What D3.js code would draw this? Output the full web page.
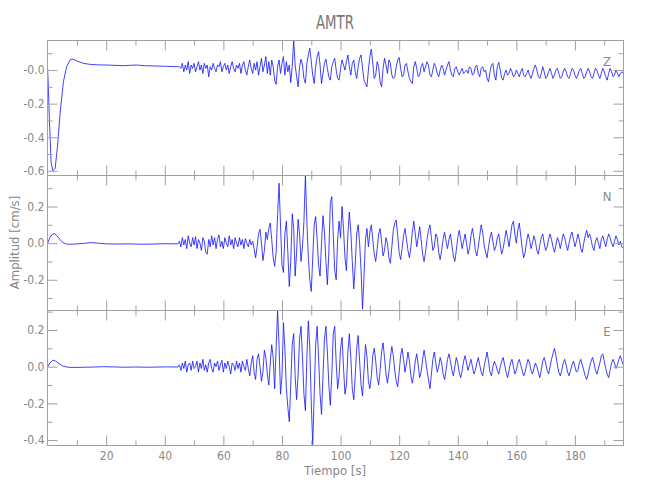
<!DOCTYPE html>
<html><head><meta charset="utf-8">
<script src="https://cdn.jsdelivr.net/npm/d3@7/dist/d3.min.js"></script>
<style>body{margin:0;background:#fff}</style>
</head><body><svg id="c" width="650" height="500"></svg>
<script>
const title = "AMTR";
const xLabel = "Tiempo [s]";
const yLabel = "Amplitud [cm/s]";
const components = ["Z", "N", "E"];
const xMajorTicks = [20, 40, 60, 80, 100, 120, 140, 160, 180];
const xMinorTicks = [10, 30, 50, 70, 90, 110, 130, 150, 170, 190];
const xDomain = [-0.2, 196.4];
const sampleStart = 45, sampleStep = 0.5;

// Z component
const zDomain = [-0.625, 0.179];
const zTicks = [-0.6, -0.4, -0.2, 0.0];
const zTickLabels = ["-0.6", "-0.4", "-0.2", "-0.0"];
const zMinor = [-0.5, -0.3, -0.1, 0.1];
const zEarlyT = [0, 0.3, 0.6, 1.2, 1.8, 2.6, 3.4, 4.3, 5.4, 6.5, 7.7, 8.6, 10, 12.2, 14.5, 17, 20.2, 23, 25.9, 28, 30.4, 33, 37.3, 41, 44.5];
const zEarlyV = [0.01, -0.12, -0.29, -0.55, -0.60, -0.585, -0.45, -0.25, -0.07, 0.02, 0.06, 0.065, 0.054, 0.04, 0.034, 0.031, 0.03, 0.028, 0.026, 0.028, 0.03, 0.026, 0.024, 0.022, 0.02];
const zWave = [
 0.02, 0.01, 0.04, -0.01, 0.03, 0.00, 0.05, -0.02, 0.03, 0.01, 0.04, -0.01, 0.02, 0.05, 0.00, 0.03, -0.02, 0.04, 0.01, 0.03,
 -0.04, 0.02, 0.00, 0.04, 0.01, -0.01, 0.03, 0.02, 0.05, -0.01, 0.02, 0.04, 0.00, 0.03, -0.02, 0.02, 0.05, 0.01, -0.01, 0.03,
 0.01, 0.04, -0.02, 0.03, 0.05, 0.00, -0.03, 0.02, 0.06, 0.01, -0.02, 0.04, 0.00, 0.05, -0.03, 0.02, 0.07, -0.01, 0.03, 0.08,
 -0.02, 0.05, -0.03, 0.06, 0.02, -0.06, -0.085, 0.02, 0.06, -0.02, 0.04, 0.08, -0.03, 0.05, -0.01, 0.03, -0.075, 0.02, 0.175, 0.03,
 -0.04, -0.10, 0.02, 0.065, 0.03, -0.05, -0.078, 0.04, 0.09, 0.13, 0.05, -0.03, -0.08, 0.02, 0.08, 0.11, 0.03, -0.08, -0.02, 0.04,
 0.065, 0.01, -0.04, -0.06, 0.02, 0.05, 0.07, 0.00, -0.05, -0.06, 0.01, 0.06, 0.03, 0.00, 0.05, 0.09, 0.02, -0.03, 0.04, 0.06,
 -0.01, -0.05, 0.02, 0.07, 0.09, 0.01, -0.06, -0.08, -0.10, 0.00, 0.08, 0.125, 0.04, -0.05, -0.03, 0.05, 0.02, -0.07, -0.10, 0.01,
 0.07, 0.03, -0.02, 0.06, 0.04, -0.03, -0.05, -0.04, 0.02, 0.06, 0.075, 0.01, -0.04, -0.03, 0.03, 0.04, -0.01, -0.05, -0.07, -0.08,
 0.02, 0.05, 0.01, -0.04, -0.03, 0.02, 0.04, -0.01, 0.02, 0.05, 0.03, -0.03, -0.04, 0.00, 0.04, 0.02, -0.02, -0.04, 0.00, 0.03,
 0.01, -0.03, 0.00, 0.03, 0.05, 0.00, -0.03, -0.04, 0.01, 0.02, -0.01, -0.03, -0.01, 0.01, -0.02, -0.01, 0.00, -0.02, 0.02, 0.01,
 -0.03, -0.02, 0.02, 0.03, -0.02, -0.04, 0.01, 0.02, -0.01, 0.00, -0.05, -0.07, -0.01, 0.03, 0.04, -0.03, -0.06, 0.02, 0.045, 0.00,
 -0.05, -0.06, -0.02, 0.00, -0.03, -0.02, 0.01, -0.01, -0.04, -0.03, 0.00, -0.02, -0.04, -0.01, 0.01, -0.03, -0.04, -0.02, 0.00, -0.03,
 -0.05, -0.02, 0.01, 0.03, 0.00, -0.04, -0.05, -0.02, 0.02, -0.01, -0.05, -0.04, -0.01, 0.01, -0.02, -0.05, -0.03, 0.00, 0.01, -0.02,
 -0.05, -0.04, -0.01, 0.01, -0.01, -0.04, -0.05, -0.02, 0.01, 0.00, -0.03, -0.05, -0.03, 0.00, 0.01, -0.02, -0.05, -0.04, -0.01, 0.01,
 -0.01, -0.04, -0.05, -0.02, 0.01, 0.00, -0.03, -0.05, -0.02, 0.01, -0.01, -0.04, -0.06, -0.02, 0.01, -0.01, -0.04, -0.03, 0.00, -0.02,
 -0.04, -0.02, -0.01, -0.02
];

// N component
const nDomain = [-0.365, 0.372];
const nTicks = [-0.2, 0.0, 0.2];
const nTickLabels = ["-0.2", "0.0", "0.2"];
const nMinor = [-0.3, -0.1, 0.1, 0.3];
const nEarlyT = [0, 0.8, 1.6, 2.4, 3.2, 4.2, 5.2, 6.5, 8, 10, 12, 14.6, 17, 20, 24, 28, 32, 36, 40, 44.5];
const nEarlyV = [0.0, 0.03, 0.048, 0.052, 0.04, 0.02, 0.003, -0.005, -0.006, -0.004, -0.002, 0.003, 0.0, -0.004, -0.005, -0.004, -0.006, -0.005, -0.003, -0.004];
const nWave = [
 0.01, -0.02, 0.03, -0.01, 0.02, -0.03, 0.04, 0.00, -0.02, 0.03, -0.01, 0.035, -0.03, 0.02, 0.00, -0.04, 0.03, 0.01, -0.05, -0.06,
 0.02, -0.02, 0.04, -0.01, 0.03, -0.03, 0.02, 0.045, -0.02, 0.01, -0.03, 0.03, 0.00, -0.02, 0.04, -0.01, 0.02, -0.03, 0.03, 0.00,
 -0.02, 0.03, -0.01, 0.02, -0.03, 0.025, 0.00, -0.02, 0.02, -0.01, 0.01, -0.03, -0.08, -0.02, 0.05, 0.076, 0.00, -0.095, -0.04, 0.06,
 0.02, 0.08, 0.11, 0.02, -0.08, -0.127, -0.05, 0.15, 0.327, 0.10, -0.12, -0.16, 0.05, 0.12, -0.05, -0.237, -0.10, 0.16, 0.08, -0.18,
 -0.05, 0.13, 0.05, -0.10, -0.02, 0.12, 0.37, 0.12, -0.08, -0.20, -0.264, -0.08, 0.10, 0.145, 0.02, -0.12, -0.18, 0.00, 0.15, 0.06,
 -0.10, -0.227, -0.05, 0.218, 0.254, 0.05, -0.15, -0.20, 0.02, 0.12, 0.03, 0.20, 0.08, -0.08, -0.15, 0.05, 0.17, 0.06, -0.10, -0.25,
 -0.12, 0.05, 0.10, 0.00, -0.15, -0.36, -0.18, 0.02, 0.08, -0.02, 0.06, 0.10, 0.02, -0.06, -0.10, -0.03, 0.05, 0.08, 0.01, -0.07,
 -0.04, 0.03, 0.00, -0.08, -0.11, -0.02, 0.07, 0.11, 0.126, 0.04, -0.05, -0.09, -0.03, 0.04, 0.08, 0.02, -0.04, -0.08, -0.02, 0.06,
 0.12, 0.05, -0.02, 0.03, 0.09, 0.02, -0.06, -0.10, -0.05, 0.02, 0.07, 0.10, 0.03, -0.04, -0.02, 0.05, 0.03, -0.05, -0.09, -0.04,
 0.02, 0.06, 0.01, -0.03, 0.02, 0.05, -0.01, -0.07, -0.10, -0.04, 0.03, 0.07, 0.02, -0.03, 0.01, 0.05, 0.00, -0.06, -0.03, 0.04,
 0.08, 0.03, -0.04, -0.07, -0.02, 0.04, 0.10, 0.06, -0.01, -0.05, -0.08, -0.02, 0.03, 0.06, 0.01, -0.04, -0.02, 0.03, 0.05, -0.01,
 -0.06, -0.03, 0.02, 0.07, 0.03, -0.02, 0.04, 0.10, 0.12, 0.05, 0.00, 0.07, 0.11, 0.04, -0.03, -0.08, -0.05, 0.01, 0.05, 0.02,
 -0.03, 0.00, 0.04, 0.01, -0.04, -0.06, -0.01, 0.03, 0.05, 0.00, -0.04, -0.02, 0.02, 0.05, 0.02, -0.02, -0.05, -0.01, 0.03, 0.01,
 -0.03, 0.01, 0.05, 0.03, -0.01, -0.04, 0.00, 0.04, 0.06, 0.02, -0.02, 0.01, 0.05, 0.02, -0.03, -0.05, 0.00, 0.04, 0.07, 0.03,
 0.05, 0.02, -0.02, -0.04, 0.01, 0.03, 0.00, -0.03, 0.02, 0.04, 0.01, -0.02, 0.02, 0.05, 0.03, 0.00, -0.02, 0.01, 0.04, 0.02,
 -0.01, 0.01, -0.02, -0.03
];

// E component
const eDomain = [-0.427, 0.309];
const eTicks = [-0.4, -0.2, 0.0, 0.2];
const eTickLabels = ["-0.4", "-0.2", "0.0", "0.2"];
const eMinor = [-0.3, -0.1, 0.1, 0.3];
const eEarlyT = [0, 0.8, 1.8, 2.8, 3.8, 5, 6.5, 8, 10, 13, 16, 19, 22, 26, 30, 34, 38, 41, 44.5];
const eEarlyV = [0.0, 0.02, 0.036, 0.03, 0.018, 0.005, -0.002, -0.004, -0.004, -0.003, -0.002, 0.0, -0.001, -0.003, -0.002, -0.003, -0.002, -0.001, -0.002];
const eWave = [
 0.01, -0.02, 0.02, -0.01, 0.03, -0.03, 0.01, 0.02, -0.02, 0.03, -0.01, 0.00, 0.03, -0.03, 0.02, -0.01, 0.04, -0.02, 0.01, -0.03,
 0.02, 0.04, -0.01, -0.03, 0.02, 0.00, 0.03, -0.02, 0.01, 0.035, -0.03, 0.02, -0.01, 0.03, 0.00, -0.04, 0.02, 0.01, -0.02, 0.03,
 -0.01, 0.02, -0.03, 0.03, 0.00, -0.02, 0.04, -0.01, -0.05, 0.02, 0.06, -0.03, -0.07, 0.04, 0.07, 0.00, -0.08, -0.03, 0.09, 0.05,
 -0.04, -0.10, 0.02, 0.12, 0.05, -0.12, 0.10, 0.305, 0.12, -0.15, -0.05, 0.24, 0.10, -0.12, -0.22, -0.30, -0.10, 0.12, 0.18, -0.05,
 -0.18, -0.05, 0.15, 0.22, 0.05, -0.15, -0.24, 0.05, 0.25, 0.10, -0.20, -0.425, -0.15, 0.12, 0.22, 0.05, -0.15, -0.26, -0.05, 0.15,
 0.22, 0.08, -0.10, -0.21, -0.05, 0.18, 0.22, 0.02, -0.12, -0.05, 0.10, 0.16, 0.00, -0.15, -0.10, 0.08, 0.18, 0.05, -0.12, -0.18,
 -0.05, 0.10, 0.17, 0.03, -0.10, -0.16, -0.02, 0.12, 0.06, -0.08,
 -0.12, -0.05, 0.06, 0.10, 0.03, -0.06, -0.10, -0.02, 0.08, 0.13, 0.05, -0.04, -0.09, -0.03, 0.05, 0.11, 0.06, -0.02, -0.08, -0.11,
 -0.03, 0.06, 0.10, 0.04, -0.03, 0.02, 0.08, 0.03, -0.05, -0.09, -0.04, 0.03, 0.07, 0.01, -0.06, -0.03, 0.04, 0.09, 0.04, -0.02,
 -0.07, -0.12, -0.04, 0.04, 0.08, 0.02, -0.03, 0.00, 0.05, 0.02, -0.04, -0.07, -0.02, 0.04, 0.07, 0.03, -0.02, -0.05, 0.00, 0.05,
 0.02, -0.03, -0.06, -0.02, 0.03, 0.06, 0.02, -0.02, 0.01, 0.04, 0.00, -0.04, -0.02, 0.02, 0.05, 0.01, -0.03, -0.05, 0.00, 0.04,
 0.08, 0.03, -0.03, -0.05, 0.00, 0.03, 0.01, -0.02, -0.04, 0.00, 0.03, 0.05, 0.01, -0.03, -0.06, -0.02, 0.02, 0.04, 0.00, -0.04,
 -0.02, 0.02, 0.04, 0.01, -0.02, -0.05, -0.03, 0.01, 0.04, 0.02, -0.02, -0.04, -0.01, 0.02, 0.00, -0.03, -0.06, -0.02, 0.03, 0.05,
 0.02, -0.02, -0.04, 0.00, 0.04, 0.07, 0.10, 0.06, 0.01, -0.03, -0.05, -0.02, 0.02, 0.04, 0.01, -0.03, -0.05, -0.02, 0.01, 0.03,
 0.00, -0.03, -0.02, 0.02, 0.04, 0.01, -0.02, -0.05, -0.07, -0.04, 0.00, 0.03, 0.05, 0.02, -0.02, -0.04, -0.01, 0.02, 0.06, 0.07,
 0.03, -0.01, -0.04, -0.06, -0.02, 0.02, 0.04, 0.02, -0.01, 0.01, 0.04, 0.06, 0.03, 0.01
];

// ---------- drawing ----------
const FONT = "'Liberation Sans Narrow','DejaVu Sans Condensed','Liberation Sans',sans-serif";
const left = 47, right = 623, panelH = 135;
const panelTops = [40, 175, 310];
const axisColor = "#a0a0a0", textColor = "#888888";

const panels = [
  {name: components[0], domain: zDomain, ticks: zTicks, labels: zTickLabels, minor: zMinor, earlyT: zEarlyT, earlyV: zEarlyV, wave: zWave},
  {name: components[1], domain: nDomain, ticks: nTicks, labels: nTickLabels, minor: nMinor, earlyT: nEarlyT, earlyV: nEarlyV, wave: nWave},
  {name: components[2], domain: eDomain, ticks: eTicks, labels: eTickLabels, minor: eMinor, earlyT: eEarlyT, earlyV: eEarlyV, wave: eWave}
];

const svg = d3.select("#c");
const x = d3.scaleLinear().domain(xDomain).range([left, right]);

function styleAxis(g) {
  g.select(".domain").remove();
  g.selectAll(".tick line").attr("stroke", axisColor).attr("stroke-width", 1);
  g.selectAll(".tick text").attr("fill", textColor).style("font-family", FONT)
    .style("font-size", "12px").style("font-weight", "200");
}

const defs = svg.append("defs");

panels.forEach((p, i) => {
  const top = panelTops[i];
  const y = d3.scaleLinear().domain(p.domain).range([top + panelH, top]);
  const pts = p.earlyT.map((t, k) => [t, p.earlyV[k]])
    .concat(p.wave.map((v, k) => [sampleStart + k * sampleStep, v]));

  defs.append("clipPath").attr("id", "clip" + i)
    .append("rect").attr("x", left).attr("y", top).attr("width", right - left).attr("height", panelH);

  svg.append("path")
    .datum(pts)
    .attr("clip-path", `url(#clip${i})`)
    .attr("fill", "none")
    .attr("stroke", "#1010ff")
    .attr("stroke-width", 0.8)
    .attr("stroke-linejoin", "round")
    .attr("d", d3.line().x(d => x(d[0])).y(d => y(d[1])));

  // frame
  svg.append("rect").attr("x", left + 0.5).attr("y", top + 0.5)
    .attr("width", right - left).attr("height", panelH)
    .attr("fill", "none").attr("stroke", axisColor);

  // y axes
  svg.append("g").attr("transform", `translate(${left + 0.5},0)`)
    .call(d3.axisLeft(y).tickValues(p.ticks).tickFormat((d, k) => p.labels[k]).tickSize(-10).tickPadding(3))
    .call(styleAxis);
  svg.append("g").attr("transform", `translate(${left + 0.5},0)`)
    .call(d3.axisLeft(y).tickValues(p.minor).tickFormat("").tickSize(-5))
    .call(styleAxis);
  svg.append("g").attr("transform", `translate(${right + 0.5},0)`)
    .call(d3.axisRight(y).tickValues(p.ticks).tickFormat("").tickSize(-10))
    .call(styleAxis);
  svg.append("g").attr("transform", `translate(${right + 0.5},0)`)
    .call(d3.axisRight(y).tickValues(p.minor).tickFormat("").tickSize(-5))
    .call(styleAxis);

  // x axes (top & bottom of each panel)
  svg.append("g").attr("transform", `translate(0,${top + 0.5})`)
    .call(d3.axisTop(x).tickValues(xMajorTicks).tickFormat("").tickSize(-10))
    .call(styleAxis);
  svg.append("g").attr("transform", `translate(0,${top + 0.5})`)
    .call(d3.axisTop(x).tickValues(xMinorTicks).tickFormat("").tickSize(-5))
    .call(styleAxis);
  const isLast = i === panels.length - 1;
  svg.append("g").attr("transform", `translate(0,${top + panelH + 0.5})`)
    .call(d3.axisBottom(x).tickValues(xMajorTicks).tickFormat(isLast ? d3.format("d") : "").tickSize(-10).tickPadding(6))
    .call(styleAxis);
  svg.append("g").attr("transform", `translate(0,${top + panelH + 0.5})`)
    .call(d3.axisBottom(x).tickValues(xMinorTicks).tickFormat("").tickSize(-5))
    .call(styleAxis);

  // component label
  svg.append("text").attr("x", 607).attr("y", top + 26)
    .attr("text-anchor", "middle").attr("fill", textColor)
    .style("font-family", FONT).style("font-size", "13px").style("font-weight", "200")
    .text(p.name);
});

svg.append("text").attr("x", (left + right) / 2).attr("y", 29)
  .attr("text-anchor", "middle").attr("fill", "#777")
  .attr("textLength", 38).attr("lengthAdjust", "spacingAndGlyphs")
  .style("font-family", FONT).style("font-size", "19px").style("font-weight", "200")
  .text(title);

svg.append("text").attr("x", (left + right) / 2).attr("y", 475)
  .attr("text-anchor", "middle").attr("fill", textColor)
  .style("font-family", FONT).style("font-size", "13px").style("font-weight", "200")
  .text(xLabel);

svg.append("text").attr("transform", `translate(19,${panelTops[1] + panelH / 2}) rotate(-90)`)
  .attr("text-anchor", "middle").attr("fill", textColor)
  .style("font-family", FONT).style("font-size", "13px").style("font-weight", "200")
  .text(yLabel);
</script>
</body></html>
